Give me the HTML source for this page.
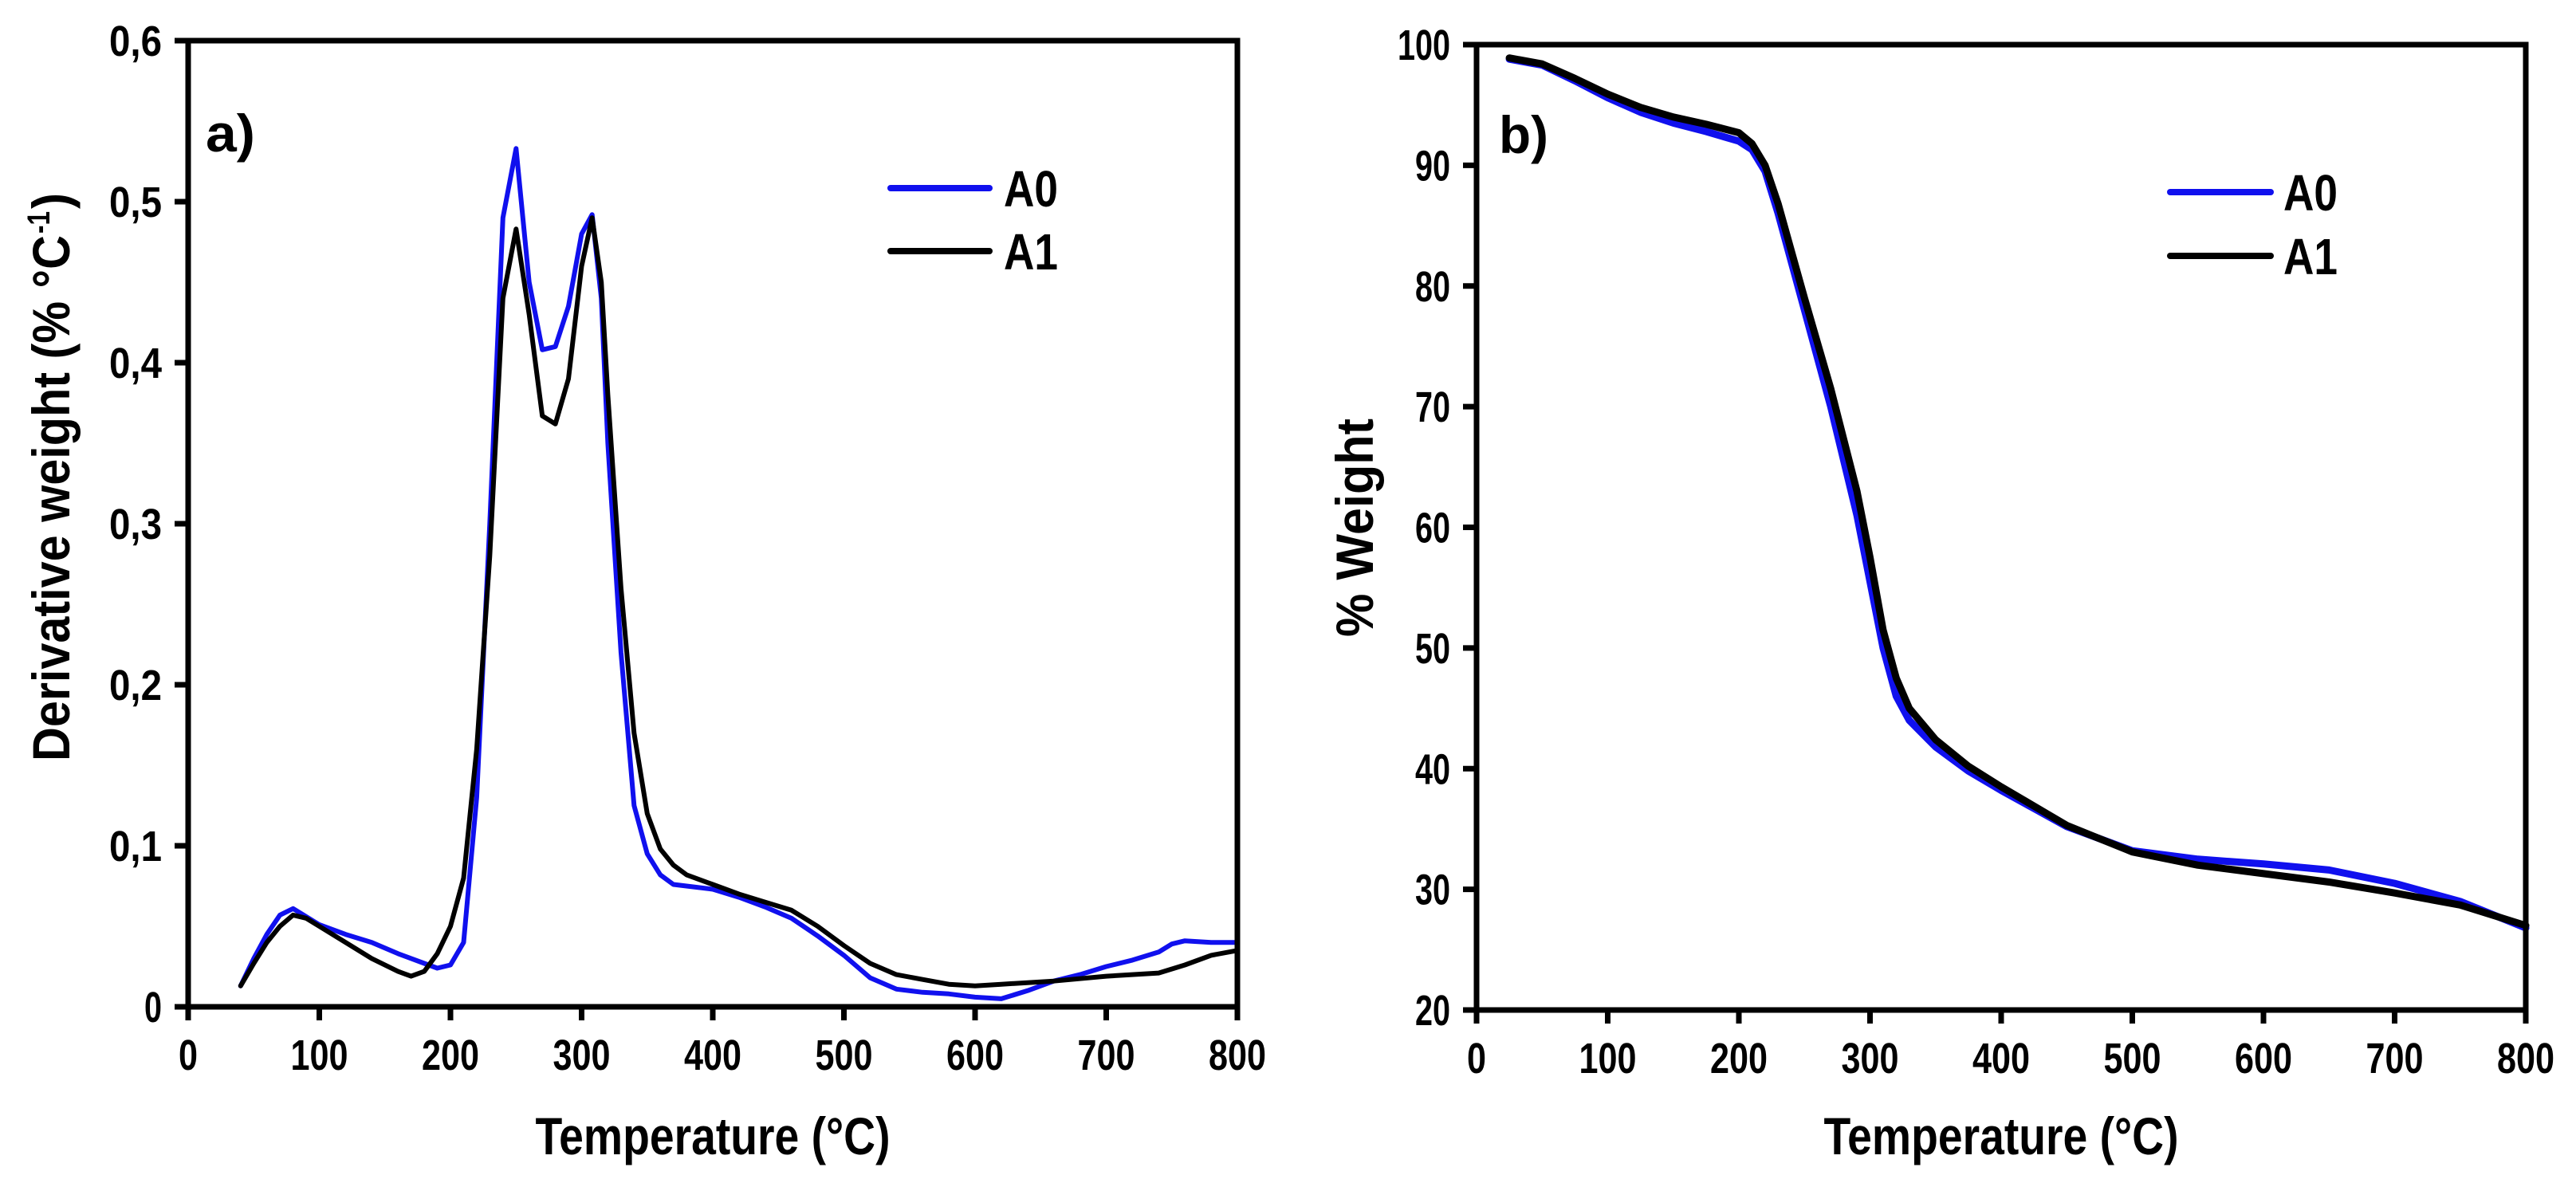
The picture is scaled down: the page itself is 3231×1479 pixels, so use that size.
<!DOCTYPE html>
<html><head><meta charset="utf-8"><style>html,body{margin:0;padding:0;background:#fff}svg{display:block}text{font-family:"Liberation Sans",sans-serif;font-weight:bold;fill:#000}</style></head>
<body>
<svg id="fig" width="3231" height="1479" viewBox="0 0 3231 1479" xmlns="http://www.w3.org/2000/svg"></svg>
<script>
// Panel a) data (DTG)
const dtgTempA0 = [40,50,60,70,80,90,100,120,140,160,180,190,200,210,220,230,240,250,260,270,280,290,300,308,315,320,330,340,350,360,370,380,400,420,440,460,480,500,520,540,560,580,600,620,640,660,680,700,720,740,750,760,780,800];
const dtgA0 = [0.013,0.03,0.045,0.057,0.061,0.056,0.051,0.045,0.04,0.033,0.027,0.024,0.026,0.04,0.13,0.3,0.49,0.533,0.45,0.408,0.41,0.435,0.48,0.492,0.44,0.35,0.22,0.125,0.095,0.082,0.076,0.075,0.073,0.068,0.062,0.055,0.044,0.032,0.018,0.011,0.009,0.008,0.006,0.005,0.01,0.016,0.02,0.025,0.029,0.034,0.039,0.041,0.04,0.04];
const dtgTempA1 = [40,50,60,70,80,90,100,120,140,160,170,180,190,200,210,220,230,240,250,260,270,280,290,300,308,315,320,330,340,350,360,370,380,400,420,440,460,480,500,520,540,560,580,600,620,660,700,740,760,780,800];
const dtgA1 = [0.013,0.027,0.04,0.05,0.057,0.055,0.05,0.04,0.03,0.022,0.019,0.022,0.033,0.05,0.08,0.16,0.28,0.44,0.483,0.43,0.367,0.362,0.39,0.46,0.49,0.45,0.38,0.26,0.17,0.12,0.098,0.088,0.082,0.076,0.07,0.065,0.06,0.05,0.038,0.027,0.02,0.017,0.014,0.013,0.014,0.016,0.019,0.021,0.026,0.032,0.035];
const dtgYTicks = ["0","0,1","0,2","0,3","0,4","0,5","0,6"];
// Panel b) data (TGA)
const tgaTemp = [25,50,75,100,125,150,175,200,210,220,230,250,270,290,300,310,320,330,350,375,400,450,500,550,600,650,700,750,800];
const tgaA0 = [98.8,98.3,97,95.6,94.4,93.5,92.8,92,91.3,89.5,86,78,70,61,55.5,50,46,44,41.8,39.8,38.2,35.2,33.2,32.5,32.1,31.6,30.5,29,26.8];
const tgaA1 = [98.9,98.4,97.2,95.9,94.8,94,93.4,92.7,91.8,90,86.8,79,71.5,63,57.5,51.5,47.5,45,42.4,40.2,38.5,35.3,33.1,32,31.3,30.6,29.7,28.7,27];
const tgaYTicks = [20,30,40,50,60,70,80,90,100];
const xTicks = [0,100,200,300,400,500,600,700,800];

const NS="http://www.w3.org/2000/svg";
const svg=document.getElementById('fig');
function el(tag,attrs,parent){const e=document.createElementNS(NS,tag);for(const k in attrs)e.setAttribute(k,attrs[k]);(parent||svg).appendChild(e);return e;}
function txt(s,attrs,fs,w){const t=el('text',attrs);t.setAttribute('font-size',fs);if(w){t.setAttribute('textLength',w);t.setAttribute('lengthAdjust','spacingAndGlyphs');}t.textContent=s;return t;}

function panel(cfg){
  const g=el('g',{});
  
  
  const X=v=>cfg.x0+(v-0)/800*(cfg.x1-cfg.x0);
  const Y=v=>cfg.yb+(v-cfg.ymin)/(cfg.ymax-cfg.ymin)*(cfg.yt-cfg.yb);
  cfg.series.forEach(s=>{
    const d=s.xs.map((x,i)=>(i?'L':'M')+X(x).toFixed(1)+','+Y(s.ys[i]).toFixed(1)).join('');
    const p=el('path',{d:d,fill:'none',stroke:s.color,'stroke-width':cfg.lw,'stroke-linejoin':'round','stroke-linecap':'round'},g);
    
    
  });
  const f=el('rect',{x:cfg.x0,y:cfg.yt,width:cfg.x1-cfg.x0,height:cfg.yb-cfg.yt,fill:'none',stroke:'#000','stroke-width':7},g);
  
  
  xTicks.forEach(v=>{
    el('line',{x1:X(v),x2:X(v),y1:cfg.yb,y2:cfg.yb+17,stroke:'#000','stroke-width':7},g);
    const t=txt(String(v),{x:X(v),y:cfg.yb+79,'text-anchor':'middle'},54,String(v).length*24);
    
    
  });
  cfg.yTicks.forEach((lab,i)=>{
    const v=cfg.yTickVals[i];
    el('line',{x1:cfg.x0-17,x2:cfg.x0,y1:Y(v),y2:Y(v),stroke:'#000','stroke-width':7},g);
    const t=txt(String(lab),{x:cfg.x0-33,y:Y(v)+19,'text-anchor':'end'},54,String(lab).length*22);
    
    
  });
}

panel({name:'dtg-chart',x0:236,x1:1552,yt:51,yb:1263,ymin:0,ymax:0.6,lw:6,
  yTicks:dtgYTicks,yTickVals:[0,0.1,0.2,0.3,0.4,0.5,0.6],
  series:[{xs:dtgTempA0,ys:dtgA0,color:'#1010ee',dname:'series-a0-dtg'},{xs:dtgTempA1,ys:dtgA1,color:'#000',dname:'series-a1-dtg'}]});
panel({name:'tga-chart',x0:1852,x1:3168,yt:56,yb:1267,ymin:20,ymax:100,lw:9,
  yTicks:tgaYTicks,yTickVals:tgaYTicks,
  series:[{xs:tgaTemp,ys:tgaA0,color:'#1010ee',dname:'series-a0-tga'},{xs:tgaTemp,ys:tgaA1,color:'#000',dname:'series-a1-tga'}]});

let t;
t=txt('a)',{x:258,y:190},66,62);  
t=txt('b)',{x:1880,y:192},66,62);  
t=txt('Temperature (°C)',{x:894,y:1448,'text-anchor':'middle'},66,445);  
t=txt('Temperature (°C)',{x:2510,y:1448,'text-anchor':'middle'},66,445);  
t=txt('Derivative weight (% °C',{x:0,y:0,'text-anchor':'middle',transform:'translate(87,625) rotate(-90)'},66,660);  
t=txt('-1',{x:0,y:0,transform:'translate(62,293) rotate(-90)'},40,28);  
t=txt(')',{x:0,y:0,transform:'translate(87,262) rotate(-90)'},66,20);  
t=txt('% Weight',{x:0,y:0,'text-anchor':'middle',transform:'translate(1722,662) rotate(-90)'},66,274);  

function legend(name,lx1,lx2,y1,y2,tx){
  const g=el('g',{});  
  el('line',{x1:lx1,x2:lx2,y1:y1,y2:y1,stroke:'#1010ee','stroke-width':8,'stroke-linecap':'round'},g);
  el('line',{x1:lx1,x2:lx2,y1:y2,y2:y2,stroke:'#000','stroke-width':8,'stroke-linecap':'round'},g);
  let a=txt('A0',{x:tx,y:y1+23},64,68);  
  let b=txt('A1',{x:tx,y:y2+23},64,68);  
}
legend('legend-a',1117,1241,236,315,1259);
legend('legend-b',2722,2848,241,321,2864);
</script>
</body></html>
